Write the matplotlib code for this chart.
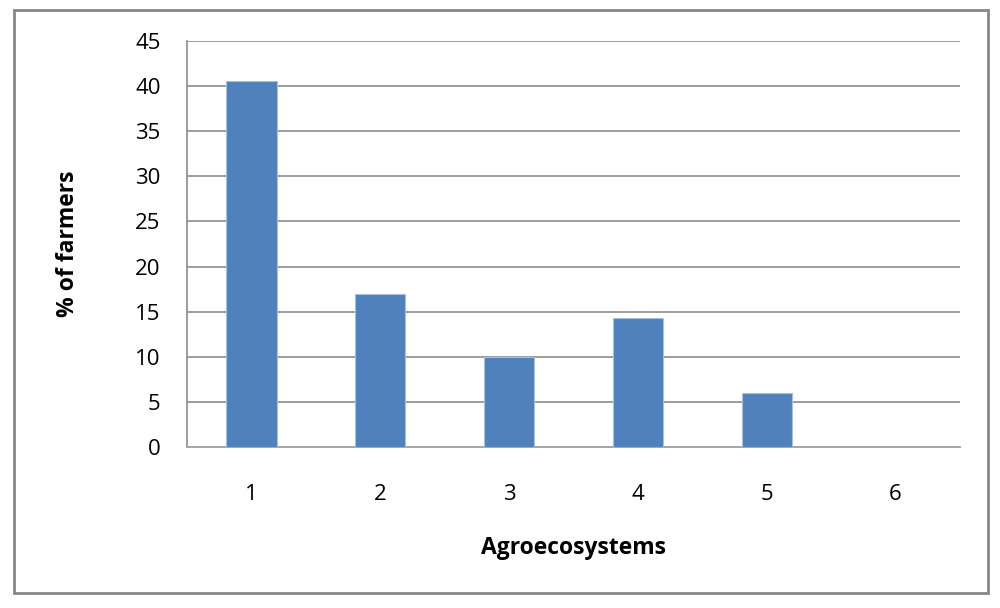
import matplotlib.pyplot as plt
from matplotlib.patches import Rectangle

categories = ["1", "2", "3", "4", "5", "6"]
values = [40.6, 17.0, 10.0, 14.3, 6.0, 0.0]
y_ticks = [0, 5, 10, 15, 20, 25, 30, 35, 40, 45]

BAR_COLOR = "#4F81BD"
GRID_COLOR = "#8C8C8C"

plt.rcParams["font.family"] = ["Open Sans", "DejaVu Sans"]

fig = plt.figure(figsize=(10.0, 6.08), dpi=100)
ax = fig.add_axes([0.187, 1 - 447 / 608, (960 - 187) / 1000, (447 - 41) / 608])

x = list(range(len(categories)))
ax.bar(x, values, width=0.39, color=BAR_COLOR, edgecolor="#A7C0DE",
       linewidth=0.8, zorder=3)

ax.set_xlim(-0.5, len(categories) - 0.5)
ax.set_ylim(0, 45)
ax.set_yticks(y_ticks)
ax.set_xticks(x)
ax.set_xticklabels(categories)
ax.yaxis.grid(True, color=GRID_COLOR, linewidth=1.2, zorder=0)
ax.set_axisbelow(True)

for side in ("top", "right"):
    ax.spines[side].set_visible(False)
ax.spines["left"].set_color(GRID_COLOR)
ax.spines["bottom"].set_color("#A6A6A6")
ax.spines["left"].set_linewidth(1.2)
ax.spines["bottom"].set_linewidth(1.4)

ax.tick_params(axis="y", length=0, labelsize=16, pad=19)
ax.tick_params(axis="x", length=0, labelsize=16, pad=27)

ax.set_ylabel("% of farmers", fontsize=16.5, fontweight="bold", labelpad=40)
ax.set_xlabel("Agroecosystems", fontsize=16.5, fontweight="bold", labelpad=22)

# outer chart frame
fig.patches.append(Rectangle((14 / 1000, 1 - 593 / 608), (988 - 14) / 1000,
                             (593 - 10) / 608, transform=fig.transFigure,
                             fill=False, edgecolor="#868686", linewidth=2.0))

fig.savefig("out.png", dpi=100)
